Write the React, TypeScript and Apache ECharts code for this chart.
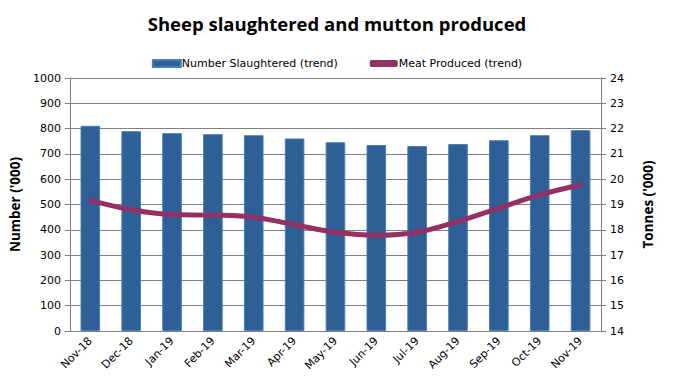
import React, { useEffect, useRef } from "react";
import * as echarts from "echarts";

const categories = ["Nov-18", "Dec-18", "Jan-19", "Feb-19", "Mar-19", "Apr-19", "May-19", "Jun-19", "Jul-19", "Aug-19", "Sep-19", "Oct-19", "Nov-19"];
const numberSlaughtered = [811, 790, 782, 778, 774, 761, 746, 735, 731, 739, 754, 774, 794];
const meatProduced = [19.16, 18.79, 18.6, 18.58, 18.5, 18.2, 17.9, 17.78, 17.9, 18.33, 18.86, 19.38, 19.78];

const tickFont = "DejaVu Sans, Verdana, sans-serif";
const boldFont = "Open Sans, Arial, sans-serif";

export default function App() {
  const ref = useRef<HTMLDivElement>(null);
  useEffect(() => {
    const chart = echarts.init(ref.current!, null, { renderer: "svg" });
    chart.setOption({
      animation: false,
      backgroundColor: "#ffffff",
      title: {
        text: "Sheep slaughtered and mutton produced",
        left: "center",
        top: 9,
        textStyle: { fontFamily: "Open Sans, sans-serif", fontWeight: "bold", fontSize: 18.5, color: "#000" },
      },
      legend: {
        top: 53,
        left: "center",
        itemGap: 32,
        itemWidth: 28,
        itemHeight: 7,
        textStyle: { fontFamily: tickFont, fontSize: 11, color: "#000", padding: [0, 0, 0, -4] },
        data: [
          { name: "Number Slaughtered (trend)", icon: "rect" },
          { name: "Meat Produced (trend)", icon: "roundRect", itemStyle: { borderWidth: 0 } },
        ],
      },
      grid: { left: 64, right: 73, top: 78, bottom: 54 },
      xAxis: {
        type: "category",
        data: categories,
        axisLine: { lineStyle: { color: "#7f7f7f" } },
        axisTick: { show: false },
        axisLabel: { rotate: 45, fontFamily: tickFont, fontSize: 11, color: "#000", margin: 8, interval: 0 },
      },
      yAxis: [
        {
          type: "value",
          min: 0,
          max: 1000,
          interval: 100,
          name: "Number ('000)",
          nameLocation: "middle",
          nameRotate: 90,
          nameGap: 40,
          nameTextStyle: { fontFamily: boldFont, fontWeight: "bold", fontSize: 13.5, color: "#000" },
          axisLine: { show: true, lineStyle: { color: "#7f7f7f" } },
          axisTick: { show: true, length: 5, lineStyle: { color: "#7f7f7f" } },
          axisLabel: { fontFamily: tickFont, fontSize: 11, color: "#000", margin: 9, formatter: (v: number) => String(v) },
          splitLine: { lineStyle: { color: "#7f7f7f" } },
        },
        {
          type: "value",
          min: 14,
          max: 24,
          interval: 1,
          name: "Tonnes ('000)",
          nameLocation: "middle",
          nameRotate: 90,
          nameGap: 40,
          nameTextStyle: { fontFamily: boldFont, fontWeight: "bold", fontSize: 13.5, color: "#000" },
          axisLine: { show: true, lineStyle: { color: "#7f7f7f" } },
          axisTick: { show: true, length: 5, lineStyle: { color: "#7f7f7f" } },
          axisLabel: { fontFamily: tickFont, fontSize: 11, color: "#000", margin: 9 },
          splitLine: { show: false },
        },
      ],
      series: [
        {
          name: "Number Slaughtered (trend)",
          type: "bar",
          yAxisIndex: 0,
          data: numberSlaughtered,
          barWidth: "48%",
          itemStyle: { color: "#2E5F97", borderColor: "#4A7EBB", borderWidth: 1 },
        },
        {
          name: "Meat Produced (trend)",
          type: "line",
          yAxisIndex: 1,
          data: meatProduced,
          smooth: 0.35,
          showSymbol: false,
          symbol: "none",
          lineStyle: { color: "#953062", width: 5, cap: "round" },
          itemStyle: { color: "#953062" },
        },
      ],
    });
    return () => chart.dispose();
  }, []);
  return <div ref={ref} style={{ width: 674, height: 385, position: "absolute", left: 0, top: 0 }} />;
}
